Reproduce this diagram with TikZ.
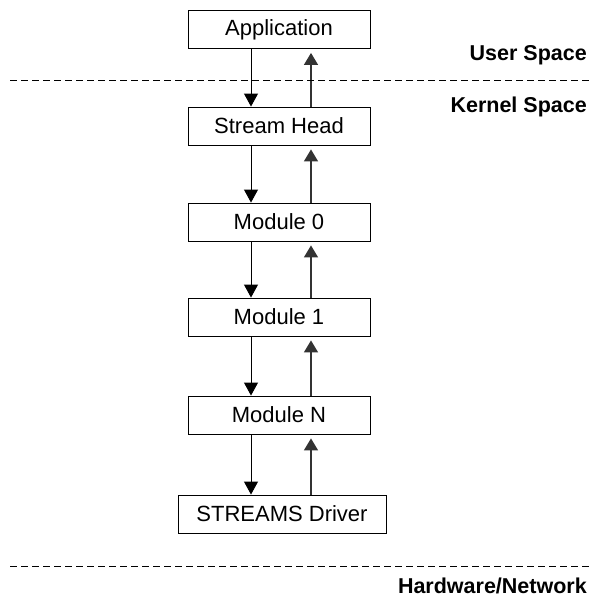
\documentclass[tikz,border=0pt]{standalone}
\usepackage{fontspec}
\setmainfont{Liberation Sans}
\usetikzlibrary{arrows.meta}
\begin{document}
\begin{tikzpicture}[x=1pt,y=-1pt,
  box/.style={draw,line width=0.9pt,minimum width=182pt,minimum height=38pt,inner sep=0pt,font=\fontsize{22}{25}\selectfont},
  down/.style={-{Triangle[length=13pt,width=14pt]},line width=1pt},
  up/.style={-{Triangle[length=12pt,width=14pt]},line width=1.6pt,draw=black!80},
  sep/.style={dashed,dash pattern=on 7pt off 4pt,line width=0.9pt},
  lab/.style={anchor=base east,font=\fontsize{21.5}{24}\selectfont\bfseries,inner sep=0pt}]
\useasboundingbox (0,0) rectangle (595,598);
\node[box] (app) at (279,29.5) {Application};
\node[box] (sh) at (279,126) {Stream Head};
\node[box] (m0) at (279,222) {Module 0};
\node[box] (m1) at (279,317) {Module 1};
\node[box] (mn) at (279,415) {Module N};
\node[box,minimum width=208pt] (drv) at (282,514) {STREAMS Driver};
\foreach \a/\b in {app/sh,sh/m0,m0/m1,m1/mn,mn/drv}{
  \draw[down] (\a.south -| 251,0) -- (\b.north -| 251,0);
  \draw[up] (\b.north -| 311,0) -- ([yshift=-4pt]\a.south -| 311,0);
}
\coordinate (l1a) at (10,80); \coordinate (l1b) at (590,80);
\coordinate (l2a) at (10,566); \coordinate (l2b) at (590,566);
\draw[sep] (l1a) -- (l1b);
\draw[sep] (l2a) -- (l2b);
\node[lab] (us) at (587,60) {User Space};
\node[lab] (ks) at (587,112) {Kernel Space};
\node[lab] (hw) at (587,593) {Hardware/Network};
\end{tikzpicture}
\end{document}
